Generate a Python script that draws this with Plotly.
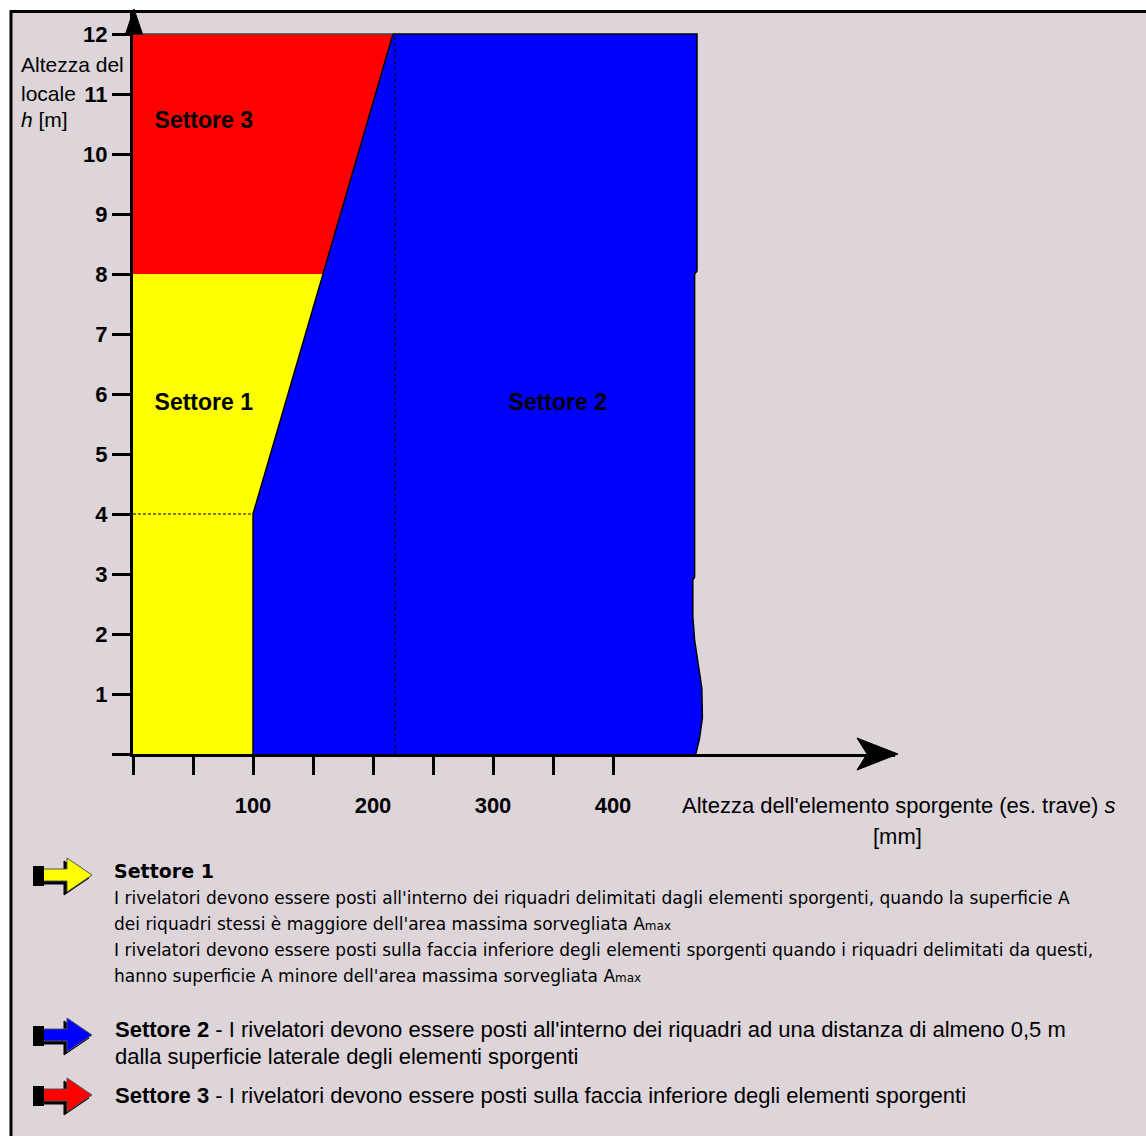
import plotly.graph_objects as go

W, H = 1146, 1136
BG = "rgb(221,213,218)"

# ---------------- data ----------------
y_tick_vals = list(range(0, 13))
y_tick_text = [""] + [str(v) for v in range(1, 13)]
x_tick_vals = [0, 50, 100, 150, 200, 250, 300, 350, 400]
x_tick_text = ["", "", "100", "", "200", "", "300", "", "400"]

# sector boundaries: s = height of protruding element [mm], h = room height [m]
sector3_s = [0, 158.3, 216.7, 0]
sector3_h = [8, 8, 12, 12]
sector1_s = [0, 100, 100, 158.3, 0]
sector1_h = [0, 0, 4, 8, 8]
sector2_s = [100, 100, 216.7, 470, 470, 468, 468, 466.5, 466.5, 468, 471, 474, 474.5, 472, 469]
sector2_h = [0, 4, 12, 12, 8.05, 8.0, 2.95, 2.9, 2.3, 1.9, 1.5, 1.1, 0.6, 0.25, 0]
ref_vline_s = [218.3, 218.3]
ref_vline_h = [0, 12]
ref_hline_s = [0, 100]
ref_hline_h = [4, 4]
top_line_s = [0, 216.7]
top_line_h = [12, 12]

label_names = ["Settore 3", "Settore 1", "Settore 2"]
label_s = [59, 59, 354]
label_h = [10.53, 5.83, 5.83]

x_title = "Altezza dell'elemento sporgente (es. trave) <i>s</i>"
x_title_unit = "[mm]"
y_title_lines = ["Altezza del", "locale", "<i>h</i> [m]"]

AMAX = "A<span style='font-size:12px'>max</span>"
s1_title = "<b>Settore 1</b>"
s1_lines = [
    "I rivelatori devono essere posti all'interno dei riquadri delimitati dagli elementi sporgenti, quando la superficie A",
    "dei riquadri stessi è maggiore dell'area massima sorvegliata " + AMAX,
    "I rivelatori devono essere posti sulla faccia inferiore degli elementi sporgenti quando i riquadri delimitati da questi,",
    "hanno superficie A minore dell'area massima sorvegliata " + AMAX,
]
s2_lines = [
    "<b>Settore 2</b> - I rivelatori devono essere posti all'interno dei riquadri ad una distanza di almeno 0,5 m",
    "dalla superficie laterale degli elementi sporgenti",
]
s3_lines = ["<b>Settore 3</b> - I rivelatori devono essere posti sulla faccia inferiore degli elementi sporgenti"]

# ---------------- helpers (pixel -> paper) ----------------
def px(x):
    return x / W

def py(y):
    return 1 - y / H

def path(points):
    return "M " + " L ".join(f"{px(x):.5f},{py(y):.5f}" for x, y in points) + " Z"

fig = go.Figure()

fig.add_trace(go.Scatter(x=sector1_s, y=sector1_h, fill="toself", fillcolor="#ffff00",
                         mode="lines", line=dict(width=0, color="#ffff00"), hoverinfo="skip"))
fig.add_trace(go.Scatter(x=sector3_s, y=sector3_h, fill="toself", fillcolor="#ff0000",
                         mode="lines", line=dict(width=0, color="#ff0000"), hoverinfo="skip"))
fig.add_trace(go.Scatter(x=sector2_s, y=sector2_h, fill="toself", fillcolor="#0000ff",
                         mode="lines", line=dict(width=1.5, color="black"), hoverinfo="skip"))
fig.add_trace(go.Scatter(x=top_line_s, y=top_line_h, mode="lines",
                         line=dict(width=1.5, color="#444"), hoverinfo="skip"))
fig.add_trace(go.Scatter(x=ref_vline_s, y=ref_vline_h, mode="lines",
                         line=dict(width=1.2, color="black", dash="dot"), hoverinfo="skip"))
fig.add_trace(go.Scatter(x=ref_hline_s, y=ref_hline_h, mode="lines",
                         line=dict(width=1.2, color="black", dash="3px,2px"), hoverinfo="skip"))
fig.add_trace(go.Scatter(x=label_s, y=label_h, mode="text", text=label_names,
                         textfont=dict(family="Liberation Sans", size=23, color="black", weight="bold"),
                         hoverinfo="skip"))

# axes: x from pixel 133 (s=0) to 895, 1.2 px/mm ; y from pixel 754 (h=0) to 13, 60 px/m
x0p, x1p = 133, 895
y0p, y1p = 754, 13
fig.update_layout(
    width=W, height=H,
    margin=dict(l=0, r=0, t=0, b=0),
    paper_bgcolor="white",
    plot_bgcolor="rgba(0,0,0,0)",
    showlegend=False,
    xaxis=dict(domain=[px(x0p), px(x1p)], range=[0, (x1p - x0p) / 1.2],
               showgrid=False, zeroline=False, showline=True, linecolor="black", linewidth=3,
               ticks="outside", ticklen=18, tickwidth=3, tickcolor="black",
               tickmode="array", tickvals=x_tick_vals, ticktext=x_tick_text,
               tickfont=dict(family="Liberation Sans", size=22, color="black", weight="bold"),
               ticklabelstandoff=12, fixedrange=True),
    yaxis=dict(domain=[py(y0p), py(y1p)], range=[0, (y0p - y1p) / 60],
               showgrid=False, zeroline=False, showline=True, linecolor="black", linewidth=3,
               ticks="outside", ticklen=18, tickwidth=3, tickcolor="black",
               tickmode="array", tickvals=y_tick_vals, ticktext=y_tick_text,
               tickfont=dict(family="Liberation Sans", size=22, color="black", weight="bold"),
               ticklabelstandoff=0, fixedrange=True),
)

shapes = []
# page frame
shapes.append(dict(type="rect", xref="paper", yref="paper", x0=px(11), y0=-0.05, x1=1.05, y1=py(11.5),
                   fillcolor=BG, line=dict(color="black", width=3), layer="below"))
# axis arrowheads
shapes.append(dict(type="path", xref="paper", yref="paper",
                   path=path([(134, 9), (125.5, 34), (142.5, 34)]),
                   fillcolor="black", line=dict(color="black", width=1)))
shapes.append(dict(type="path", xref="paper", yref="paper",
                   path=path([(898, 754), (857, 738), (867, 754), (857, 770)]),
                   fillcolor="black", line=dict(color="black", width=1)))

# legend arrows
def legend_arrow(x0, yc, color):
    body = [(9, -6), (34, -6), (34, -17), (59, 0), (34, 17), (34, 6), (9, 6)]
    out = []
    out.append(dict(type="path", xref="paper", yref="paper",
                    path=path([(x0 + dx - 3, yc + dy + 3) for dx, dy in body]),
                    fillcolor="black", line=dict(color="black", width=1)))
    out.append(dict(type="path", xref="paper", yref="paper",
                    path=path([(x0 + dx, yc + dy) for dx, dy in body]),
                    fillcolor=color, line=dict(color="#555", width=1)))
    out.append(dict(type="path", xref="paper", yref="paper",
                    path=path([(x0, yc - 9), (x0 + 11, yc - 9), (x0 + 11, yc + 11), (x0, yc + 11)]),
                    fillcolor="black", line=dict(color="black", width=0)))
    return out

shapes += legend_arrow(33, 875, "#ffff00")
shapes += legend_arrow(33, 1035, "#0000ff")
shapes += legend_arrow(33, 1095, "#ff0000")
fig.update_layout(shapes=shapes)

ann = []
def text(x, y, s, size, family="Liberation Sans", anchor="left", weight="normal"):
    ann.append(dict(xref="paper", yref="paper", x=px(x), y=py(y), text=s, showarrow=False,
                    xanchor=anchor, yanchor="middle", align=anchor,
                    font=dict(family=family, size=size, color="black", weight=weight)))

# axis titles
for s, yy in zip(y_title_lines, [64, 93, 120]):
    text(19, yy, s, 21)
text(680, 805, x_title, 22)
text(897, 836, x_title_unit, 22, anchor="center")

# legend texts
text(112, 871, s1_title, 19, family="DejaVu Sans")
for s, yy in zip(s1_lines, [898, 924, 950, 976]):
    text(112, yy, s, 17, family="DejaVu Sans")
for s, yy in zip(s2_lines, [1029, 1056]):
    text(113, yy, s, 22)
for s, yy in zip(s3_lines, [1095]):
    text(113, yy, s, 22)

fig.update_layout(annotations=ann)
fig.write_html("out.html", config={"displayModeBar": False, "staticPlot": True},
               post_script="document.body.style.margin='0';document.body.style.overflow='hidden';")
